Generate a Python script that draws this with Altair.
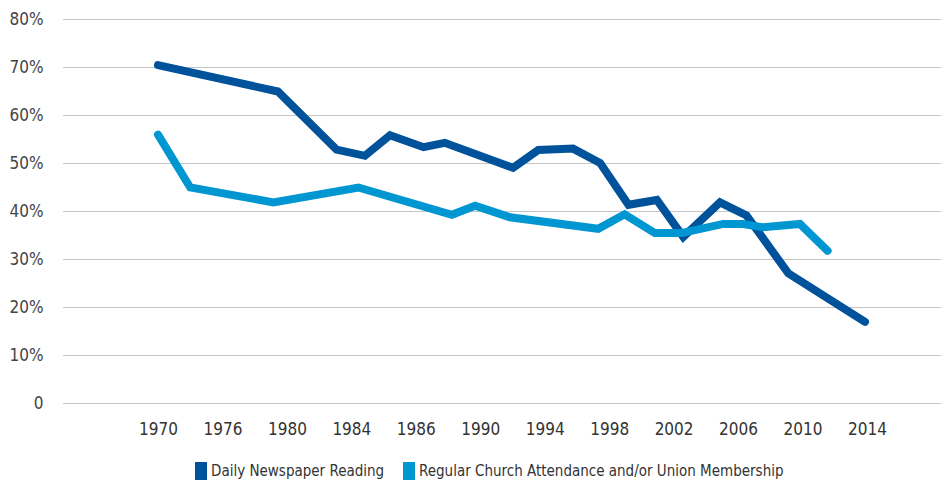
import altair as alt
import pandas as pd

# x positions are fractional indices along the evenly spaced category labels
x_labels = ["1970", "1976", "1980", "1984", "1986", "1990", "1994", "1998",
            "2002", "2006", "2010", "2014"]

news_x = [0.00, 1.86, 2.77, 3.21, 3.60, 4.12, 4.45, 5.51, 5.90, 6.44, 6.86,
          7.30, 7.74, 8.15, 8.72, 9.13, 9.78, 10.97]
news_y = [70.4, 64.9, 52.8, 51.5, 55.8, 53.3, 54.2, 49.0, 52.7, 53.0, 50.0,
          41.3, 42.3, 34.6, 41.8, 39.1, 27.0, 16.9]

church_x = [0.00, 0.50, 1.79, 3.11, 4.56, 4.92, 5.46, 6.83, 7.24, 7.71, 8.12,
            8.77, 9.08, 9.39, 9.96, 10.39]
church_y = [55.9, 44.9, 41.8, 44.9, 39.2, 41.1, 38.7, 36.3, 39.3, 35.4, 35.4,
            37.3, 37.3, 36.6, 37.3, 31.7]

series_names = ["Daily Newspaper Reading",
                "Regular Church Attendance and/or Union Membership"]
colors = ["#00529B", "#0096D2"]

rows = []
for i, (x, y) in enumerate(zip(news_x, news_y)):
    rows.append({"x": x, "y": y, "series": series_names[0], "order": i})
for i, (x, y) in enumerate(zip(church_x, church_y)):
    rows.append({"x": x, "y": y, "series": series_names[1], "order": i})
df = pd.DataFrame(rows)

FONT = "DejaVu Sans Condensed, Liberation Sans Narrow, sans-serif"
label_arr = "[" + ",".join("'" + s + "'" for s in x_labels) + "]"

chart = alt.Chart(df).mark_line(strokeWidth=8, strokeCap="round").encode(
    x=alt.X("x:Q",
            scale=alt.Scale(domain=[-1.474, 12.149], nice=False, zero=False),
            axis=alt.Axis(values=list(range(len(x_labels))),
                          labelExpr=label_arr + "[round(datum.value)]",
                          title=None, grid=False, domain=False, ticks=False,
                          labelPadding=18, labelFontSize=17, labelFont=FONT,
                          labelColor="#333", labelFlush=False)),
    y=alt.Y("y:Q",
            scale=alt.Scale(domain=[0, 80], nice=False),
            axis=alt.Axis(values=list(range(0, 81, 10)),
                          labelExpr="datum.value == 0 ? '0' : datum.value + '%'",
                          title=None, domain=False, ticks=False,
                          labelPadding=20, labelFontSize=17, labelFont=FONT,
                          labelColor="#444",
                          grid=True, gridColor="#8a8a8a", gridDash=[1, 1],
                          gridWidth=1)),
    color=alt.Color("series:N",
                    scale=alt.Scale(domain=series_names, range=colors),
                    legend=alt.Legend(title=None, orient="none",
                                      legendX=127, legendY=437,
                                      direction="horizontal",
                                      symbolType="M-0.444,-1V1",
                                      symbolSize=324, symbolStrokeWidth=12,
                                      symbolOpacity=1,
                                      labelFont=FONT, labelFontSize=15,
                                      labelColor="#333", labelLimit=0,
                                      symbolOffset=0, columnPadding=0,
                                      labelOffset={"expr": "-9"})),
    order="order:Q",
).properties(
    width=878, height=384,
    autosize=alt.AutoSizeParams(type="none"),
    padding={"left": 55, "top": 11, "right": 0, "bottom": 78},
).configure_view(stroke=None)

chart.save("out.html", embed_options={"renderer": "svg", "actions": False})
